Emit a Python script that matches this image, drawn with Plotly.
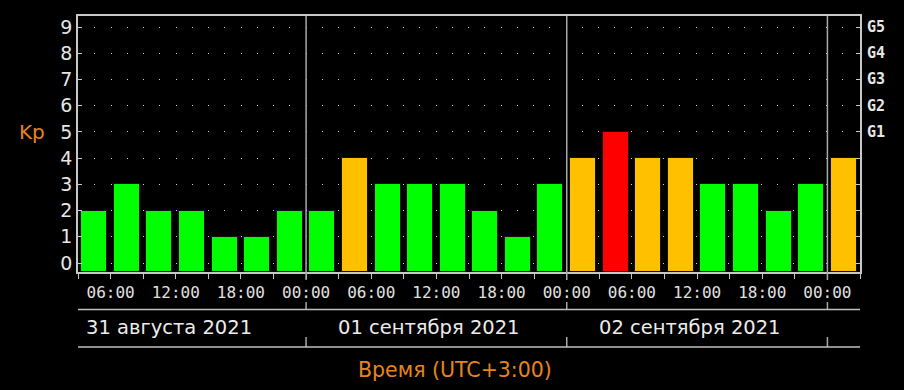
import plotly.graph_objects as go
import pandas as pd

# ---- data ----
start_time = "2021-08-31 03:00"
kp_values = [2, 3, 2, 2, 1, 1, 2,
             2, 4, 3, 3, 3, 2, 1, 3,
             4, 5, 4, 4, 3, 3, 2, 3,
             4]
day_dates = ["2021-08-31", "2021-09-01", "2021-09-02"]
day_labels = ["31 августа 2021", "01 сентября 2021", "02 сентября 2021"]
midnights = ["2021-09-01 00:00", "2021-09-02 00:00", "2021-09-03 00:00"]
g_levels = [5, 6, 7, 8, 9]
g_labels = ["G1", "G2", "G3", "G4", "G5"]
y_ticks = list(range(0, 10))

X_RANGE = ["2021-08-31 03:00", "2021-09-03 03:00"]
Y_MIN, Y_MAX = -0.343, 9.42
PERIOD_MS = 3 * 3600 * 1000

t0 = pd.Timestamp(start_time)
centers = [t0 + pd.Timedelta(hours=3 * i + 1.5) for i in range(len(kp_values))]


def kp_color(v):
    if v >= 5:
        return "#ff0000"
    if v >= 4:
        return "#ffc000"
    return "#00ff00"


colors = [kp_color(v) for v in kp_values]

fig = go.Figure()
fig.add_trace(go.Bar(
    x=centers,
    y=[v - Y_MIN for v in kp_values],
    base=Y_MIN,
    width=PERIOD_MS * 0.8,
    marker=dict(color=colors, line=dict(color="#101010", width=1)),
    hoverinfo="skip",
))

AX = "#c8c8c8"
ORANGE = "#e8841e"

fig.update_layout(
    width=904, height=390,
    margin=dict(l=78, r=44, t=16, b=118),
    paper_bgcolor="#000000",
    plot_bgcolor="#000000",
    showlegend=False,
    bargap=0,
    xaxis=dict(
        type="date",
        range=X_RANGE,
        tick0="2021-08-31 00:00",
        dtick=6 * 3600 * 1000,
        tickformat="%H:%M",
        ticks="outside", ticklen=5, tickcolor=AX, tickwidth=1,
        minor=dict(dtick=PERIOD_MS, ticks="outside", ticklen=5,
                   tickcolor=AX, showgrid=False),
        showgrid=False, zeroline=False,
        showline=True, linecolor=AX, linewidth=1.5, mirror=True,
        tickfont=dict(family="DejaVu Sans Mono", size=16, color="#e0e0e0"),
    ),
    yaxis=dict(
        range=[Y_MIN, Y_MAX],
        tickvals=y_ticks,
        ticks="inside", ticklen=4, tickcolor=AX,
        showline=True, linecolor=AX, linewidth=1.5, mirror="ticks",
        showgrid=True, gridcolor="#d0d0d0", gridwidth=1,
        griddash="1px,15.25px",
        zeroline=False,
        tickfont=dict(family="DejaVu Sans", size=19, color="#e6e6e6"),
    ),
)

H = 256.0  # plot height in px


def py(pix):
    return (272 - pix) / H


shapes = []
for m in midnights:
    for a, b in [(1, py(280)), (py(302), py(310)), (py(337), py(347))]:
        shapes.append(dict(type="line", xref="x", yref="paper", x0=m, x1=m,
                           y0=a, y1=b, line=dict(color="#a8a8a8", width=1.5)))
for yy in [py(309.5), py(347)]:
    shapes.append(dict(type="line", xref="paper", yref="paper", x0=0, x1=1,
                       y0=yy, y1=yy, line=dict(color="#c0c0c0", width=1.5)))
fig.update_layout(shapes=shapes)

ann = []
for d, lab in zip(day_dates, day_labels):
    ann.append(dict(x=pd.Timestamp(d) + pd.Timedelta(hours=12), xref="x",
                    xanchor="center", xshift=-7, y=py(327), yref="paper",
                    yanchor="middle", text=lab, showarrow=False,
                    font=dict(family="DejaVu Sans", size=19.5, color="#ececec")))
for lv, gl in zip(g_levels, g_labels):
    ann.append(dict(x=1, xref="paper", xanchor="left", xshift=5, y=lv, yref="y",
                    yanchor="middle", text=gl, showarrow=False,
                    font=dict(family="DejaVu Sans Mono", size=15, color="#e6e6e6",
                              weight="bold")))
ann.append(dict(x=(32 - 78) / 782, xref="paper", xanchor="center",
                y=py(132), yref="paper", yanchor="middle",
                text="Kp", showarrow=False,
                font=dict(family="DejaVu Sans", size=20, color=ORANGE)))
ann.append(dict(x=(455 - 78) / 782, xref="paper", xanchor="center",
                y=py(370), yref="paper", yanchor="middle",
                text="Время (UTC+3:00)", showarrow=False,
                font=dict(family="DejaVu Sans", size=20.5, color=ORANGE)))
fig.update_layout(annotations=ann)

fig.write_html("out.html")
